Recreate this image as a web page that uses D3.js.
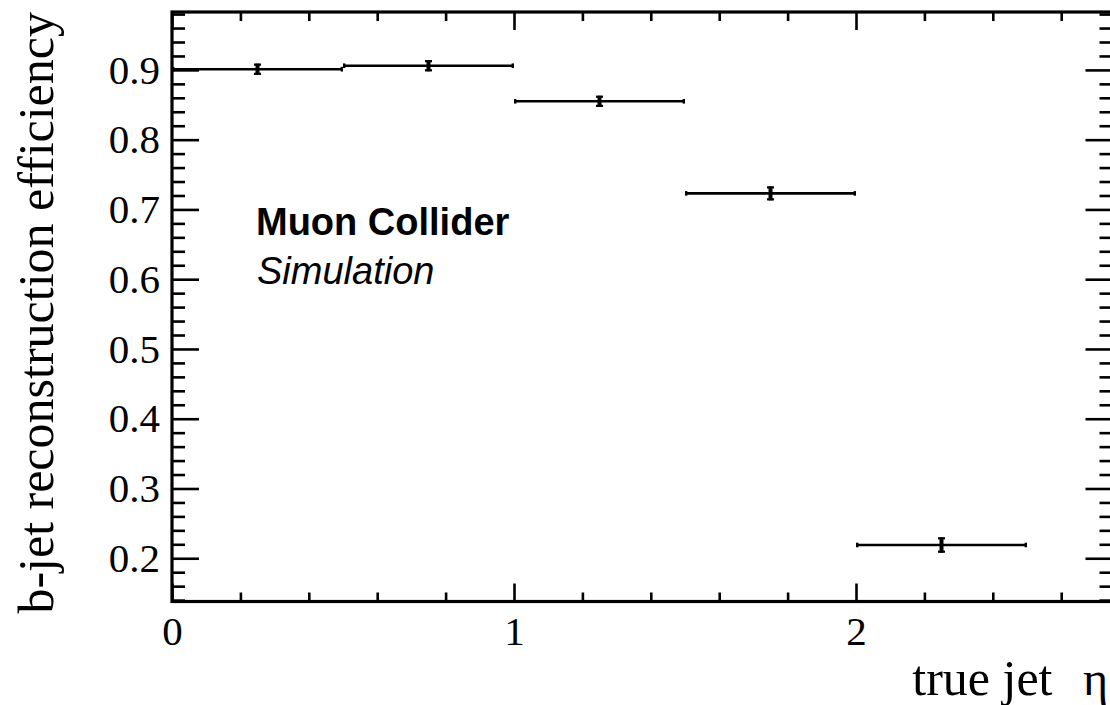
<!DOCTYPE html>
<html>
<head>
<meta charset="utf-8">
<script src="https://cdn.jsdelivr.net/npm/d3@7"></script>
<style>
  html, body { margin: 0; padding: 0; background: #fff; }
  svg { display: block; }
</style>
</head>
<body>
<svg id="chart" width="1110" height="705"></svg>
<script>
// ---- data ----
const binLow   = [0.0, 0.5, 1.0, 1.5, 2.0];
const binHigh  = [0.5, 1.0, 1.5, 2.0, 2.5];
const effValue = [0.901, 0.906, 0.855, 0.723, 0.219];
const effError = [0.008, 0.008, 0.008, 0.010, 0.011];
const xMajorTicks = [0, 1, 2];
const xMinorTicks = [0.2, 0.4, 0.6, 0.8, 1.2, 1.4, 1.6, 1.8, 2.2, 2.4, 2.6];
const yMajorTicks = [0.2, 0.3, 0.4, 0.5, 0.6, 0.7, 0.8, 0.9];
const yMinorTicks = d3.range(0.14, 0.985, 0.02).map(v => +v.toFixed(2)).filter(v => !yMajorTicks.some(m => Math.abs(m - v) < 1e-6));
const xDomain = [0, 2.75];
const yDomain = [0.138, 0.983];
const yTitle = "b-jet reconstruction efficiency";
const xTitleText = "true jet";
const xTitleSymbol = "η";
const label1 = "Muon Collider";
const label2 = "Simulation";

// ---- layout ----
const svg = d3.select("#chart");
const L = 172, R = 1112.5, T = 12, B = 601.5;
const x = d3.scaleLinear().domain(xDomain).range([L, R]);
const y = d3.scaleLinear().domain(yDomain).range([B, T]);
const serif = "'Liberation Serif', 'Times New Roman', serif";
const sans = "'Liberation Sans', Arial, Helvetica, sans-serif";
const lw = 2.6;

function styleAxis(g) {
  g.select(".domain").remove();
  g.selectAll(".tick line").attr("stroke", "#000").attr("stroke-width", lw);
  g.selectAll(".tick text").attr("fill", "#000").attr("font-family", serif).attr("font-size", 41);
}

// bottom axis
svg.append("g").attr("transform", `translate(0,${B})`)
  .call(d3.axisBottom(x).tickValues(xMajorTicks).tickSize(-18).tickPadding(14.5).tickFormat(d3.format("d")))
  .call(styleAxis);
svg.append("g").attr("transform", `translate(0,${B})`)
  .call(d3.axisBottom(x).tickValues(xMinorTicks).tickSize(-9).tickFormat(""))
  .call(styleAxis);
// top axis
svg.append("g").attr("transform", `translate(0,${T})`)
  .call(d3.axisTop(x).tickValues(xMajorTicks).tickSize(-18).tickFormat(""))
  .call(styleAxis);
svg.append("g").attr("transform", `translate(0,${T})`)
  .call(d3.axisTop(x).tickValues(xMinorTicks).tickSize(-9).tickFormat(""))
  .call(styleAxis);
// left axis
svg.append("g").attr("transform", `translate(${L},0)`)
  .call(d3.axisLeft(y).tickValues(yMajorTicks).tickSize(-27).tickPadding(12).tickFormat(d3.format(".1f")))
  .call(styleAxis);
svg.append("g").attr("transform", `translate(${L},0)`)
  .call(d3.axisLeft(y).tickValues(yMinorTicks).tickSize(-13).tickFormat(""))
  .call(styleAxis);
// right axis
svg.append("g").attr("transform", `translate(${R},0)`)
  .call(d3.axisRight(y).tickValues(yMajorTicks).tickSize(-27).tickFormat(""))
  .call(styleAxis);
svg.append("g").attr("transform", `translate(${R},0)`)
  .call(d3.axisRight(y).tickValues(yMinorTicks).tickSize(-13).tickFormat(""))
  .call(styleAxis);

// frame
svg.append("rect").attr("x", L).attr("y", T).attr("width", R - L).attr("height", B - T)
  .attr("fill", "none").attr("stroke", "#000").attr("stroke-width", 3.2);

// data
const data = binLow.map((lo, i) => ({lo, hi: binHigh[i], v: effValue[i], e: effError[i]}));
const pts = svg.append("g");
pts.selectAll("line.h").data(data).join("line").attr("class", "h")
  .attr("x1", d => x(d.lo)).attr("x2", d => x(d.hi))
  .attr("y1", d => y(d.v)).attr("y2", d => y(d.v))
  .attr("stroke", "#000").attr("stroke-width", 2.6);
// small end caps of the horizontal bars
pts.selectAll("line.capL").data(data).join("line").attr("class", "capL")
  .attr("x1", d => x(d.lo) + 1.2).attr("x2", d => x(d.lo) + 1.2)
  .attr("y1", d => y(d.v) - 2.3).attr("y2", d => y(d.v) + 2.3)
  .attr("stroke", "#000").attr("stroke-width", 2.4);
pts.selectAll("line.capR").data(data).join("line").attr("class", "capR")
  .attr("x1", d => x(d.hi) - 1.2).attr("x2", d => x(d.hi) - 1.2)
  .attr("y1", d => y(d.v) - 2.3).attr("y2", d => y(d.v) + 2.3)
  .attr("stroke", "#000").attr("stroke-width", 2.4);
// vertical error bars
pts.selectAll("line.v").data(data).join("line").attr("class", "v")
  .attr("x1", d => x((d.lo + d.hi) / 2)).attr("x2", d => x((d.lo + d.hi) / 2))
  .attr("y1", d => y(d.v - d.e)).attr("y2", d => y(d.v + d.e))
  .attr("stroke", "#000").attr("stroke-width", 4);
pts.selectAll("line.vt").data(data).join("line").attr("class", "vt")
  .attr("x1", d => x((d.lo + d.hi) / 2) - 3.5).attr("x2", d => x((d.lo + d.hi) / 2) + 3.5)
  .attr("y1", d => y(d.v + d.e) + 1).attr("y2", d => y(d.v + d.e) + 1)
  .attr("stroke", "#000").attr("stroke-width", 2.2);
pts.selectAll("line.vb").data(data).join("line").attr("class", "vb")
  .attr("x1", d => x((d.lo + d.hi) / 2) - 3.5).attr("x2", d => x((d.lo + d.hi) / 2) + 3.5)
  .attr("y1", d => y(d.v - d.e) - 1).attr("y2", d => y(d.v - d.e) - 1)
  .attr("stroke", "#000").attr("stroke-width", 2.2);

// titles
svg.append("text")
  .attr("transform", `translate(53,${T}) rotate(-90)`)
  .attr("text-anchor", "end")
  .attr("font-family", serif).attr("font-size", 50).attr("fill", "#000")
  .text(yTitle);
svg.append("text")
  .attr("x", R - 60).attr("y", 695)
  .attr("text-anchor", "end")
  .attr("font-family", serif).attr("font-size", 50).attr("fill", "#000")
  .text(xTitleText);
svg.append("text")
  .attr("x", 1108).attr("y", 695)
  .attr("text-anchor", "end")
  .attr("font-family", serif).attr("font-size", 48).attr("fill", "#000")
  .text(xTitleSymbol);

// labels
svg.append("text")
  .attr("x", 256).attr("y", 234.5)
  .attr("font-family", sans).attr("font-weight", "bold").attr("font-size", 38).attr("fill", "#000")
  .text(label1);
svg.append("text")
  .attr("x", 257).attr("y", 283.5)
  .attr("font-family", sans).attr("font-style", "italic").attr("font-size", 38).attr("fill", "#000")
  .text(label2);
</script>
</body>
</html>
